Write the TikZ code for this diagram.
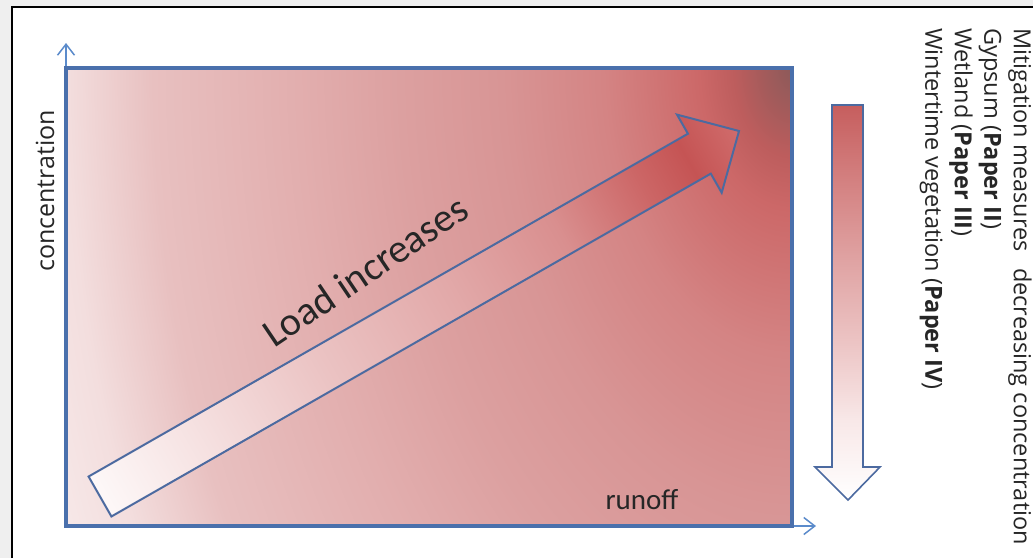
\documentclass[tikz,border=0pt]{standalone}
\usepackage{fontspec}
\setmainfont{Carlito}
\newfontfamily\labelfont{Open Sans}
\usetikzlibrary{arrows.meta}

% colours
\definecolor{framegray}{HTML}{EFEFEF}
\definecolor{borderblue}{HTML}{4A70AC}
\definecolor{axisblue}{HTML}{5B8BCB}
\definecolor{outlineblue}{HTML}{4C6AA0}
\definecolor{fa}{HTML}{8C5A5A}
\definecolor{fb}{HTML}{A45B5B}
\definecolor{fc}{HTML}{BD5D5D}
\definecolor{fd}{HTML}{CC6868}
\definecolor{fe}{HTML}{D48484}
\definecolor{ff}{HTML}{D89595}
\definecolor{fg}{HTML}{DCA0A0}
\definecolor{fh}{HTML}{E2AEAE}
\definecolor{fi}{HTML}{E8C0C0}
\definecolor{fj}{HTML}{F3DEDE}
\definecolor{fk}{HTML}{F8ECEC}
\definecolor{fl}{HTML}{FBF4F4}
\definecolor{la}{HTML}{FDF8F8}
\definecolor{lb}{HTML}{F6E2E2}
\definecolor{lc}{HTML}{EBC3C3}
\definecolor{ld}{HTML}{E2A9A9}
\definecolor{le}{HTML}{D98F8F}
\definecolor{lf}{HTML}{CC6666}
\definecolor{lg}{HTML}{C55454}
\definecolor{lh}{HTML}{D06C6C}
\definecolor{da}{HTML}{FFFFFF}
\definecolor{db}{HTML}{F8E8E8}
\definecolor{dc}{HTML}{ECC4C4}
\definecolor{dd}{HTML}{E0A4A4}
\definecolor{de}{HTML}{D48282}
\definecolor{df}{HTML}{C65E5E}

% field: darkest in the upper right corner, fading towards the lower left
\pgfdeclareradialshading{fieldshade}{\pgfpoint{0bp}{0bp}}{%
  color(0bp)=(fa); color(0.5bp)=(fb); color(1bp)=(fc); color(1.6bp)=(fd);
  color(3.25bp)=(fe); color(5bp)=(ff); color(6.75bp)=(fg); color(8.5bp)=(fh);
  color(11bp)=(fi); color(12.5bp)=(fj); color(14bp)=(fk); color(50bp)=(fl)}
% load arrow: white tail, red head
\pgfdeclarehorizontalshading{loadshade}{100bp}{%
  color(0bp)=(la); color(25bp)=(la); color(32.5bp)=(lb); color(42.5bp)=(lc);
  color(52.5bp)=(ld); color(61bp)=(le); color(67.5bp)=(lf); color(71bp)=(lg);
  color(75bp)=(lh); color(100bp)=(lh)}
% mitigation arrow: red on top, white at the tip
\pgfdeclareverticalshading{dropshade}{100bp}{%
  color(0bp)=(da); color(25bp)=(da); color(35bp)=(db); color(45bp)=(dc);
  color(55bp)=(dd); color(65bp)=(de); color(75bp)=(df); color(100bp)=(df)}

\tikzset{
  axisline/.style={draw=axisblue, line width=1.5pt,
    -{Straight Barb[length=11pt,width=17pt,line width=1.5pt]}},
  fieldborder/.style={draw=borderblue, line width=3.5pt, line join=miter},
  blockarrow/.style={draw=outlineblue, line width=2pt, line join=miter},
  labeltext/.style={inner sep=0pt, text=black!85},
}

\begin{document}
\begin{tikzpicture}[x=1pt, y=-1pt]
\useasboundingbox (0,0) rectangle (1033,558);
% page frame
\fill[framegray] (0,0) rectangle (1033,558);
\fill[white] (12,7) rectangle (1033,558);
\draw[black, line width=2pt] (12,558) -- (12,7) -- (1033,7);

% shaded field
\begin{scope}
  \clip (66,68) rectangle (792,526);
  \shade[shading=fieldshade] (792,68) ellipse [x radius=1452, y radius=2200];
\end{scope}

% axes
\coordinate (origin) at (66,526);
\coordinate (yend) at (66,43);
\coordinate (xend) at (816,526);
\draw[axisline] (origin) -- (yend);
\draw[axisline] (origin) -- (xend);
\draw[fieldborder] (66,526) rectangle (792,68);

% load arrow, drawn along its own axis
\begin{scope}[transform canvas={shift={(100,496.5)}, rotate=29.77}]
  \path[blockarrow, shading=loadshade, shade]
    (0,-23) -- (690.5,-23) -- (690.5,-45) -- (736.2,0) -- (690.5,45)
    -- (690.5,23) -- (0,23) -- cycle;
\end{scope}

% mitigation arrow
\path[blockarrow, line width=1.6pt, shading=dropshade, shade]
  (832,105) -- (863,105) -- (863,467) -- (880,467) -- (848,500)
  -- (815,467) -- (832,467) -- cycle;

% labels
\node[labeltext, font=\labelfont\fontsize{25}{30}\selectfont, rotate=90,
  anchor=base west] (conc) at (54,272) {concentration};
\node[labeltext, font=\fontsize{29}{33}\selectfont]
  (runoff) at (642,500) {runoff};
\node[labeltext, font=\fontsize{40}{46}\selectfont, rotate=34]
  (load) at (365,271) {Load increases};
\node[labeltext, font=\labelfont\fontsize{23.5}{29.5}\selectfont, rotate=-90,
  anchor=north west, align=left] (legend) at (1032,28)
  {Mitigation measures\hspace{0.7em}decreasing concentration\\
   Gypsum (\textbf{Paper II})\\
   Wetland (\textbf{Paper III})\\
   Wintertime vegetation (\textbf{Paper IV})};
\end{tikzpicture}
\end{document}
